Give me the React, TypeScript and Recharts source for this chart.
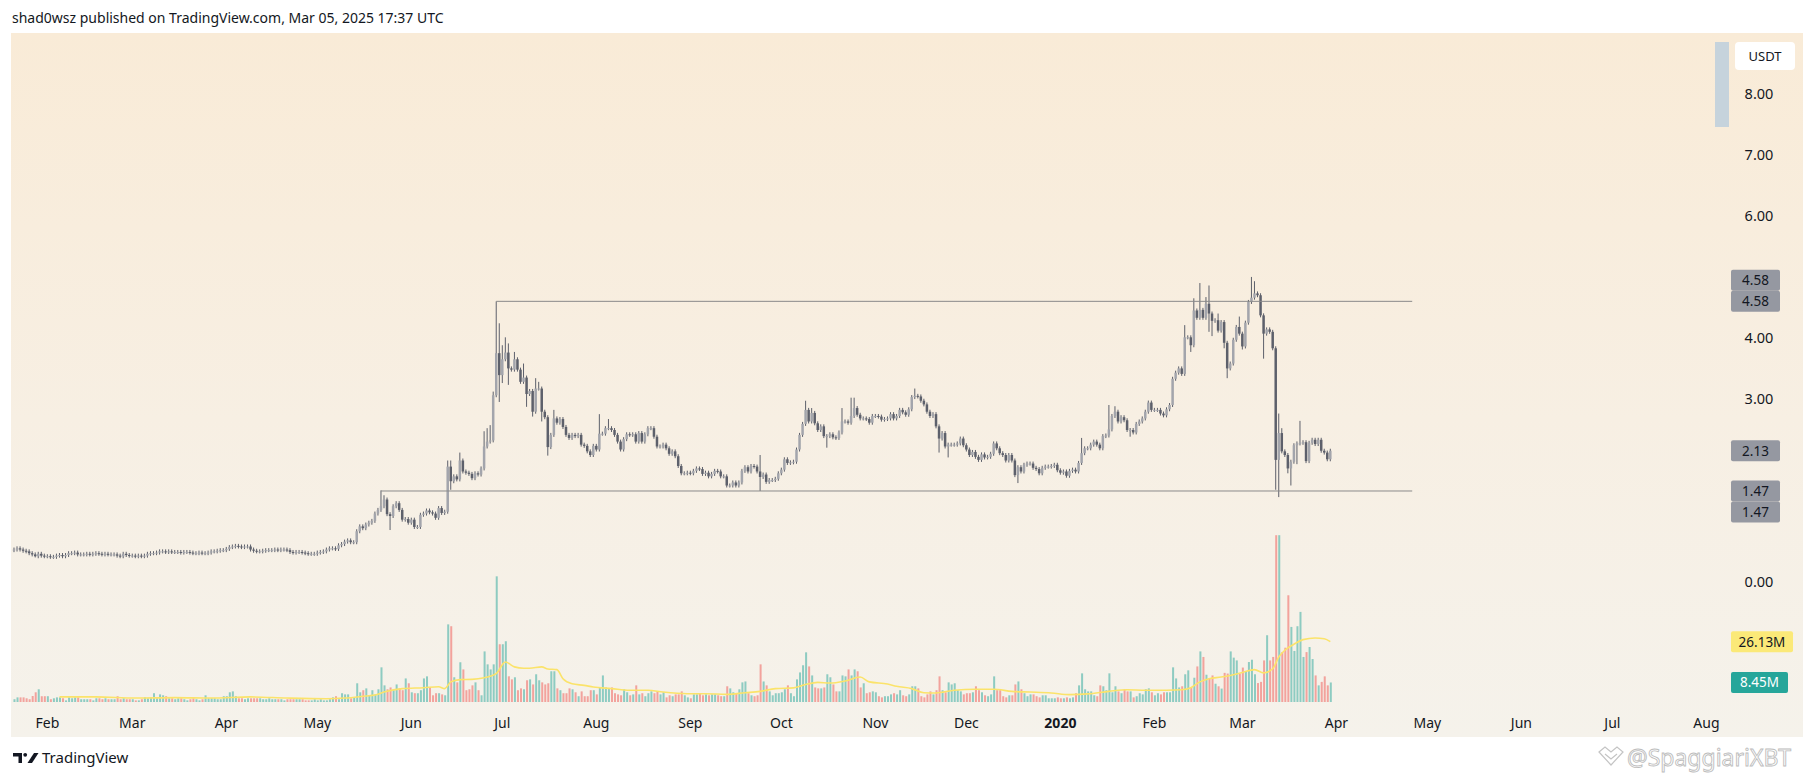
import React from 'react';
import { ComposedChart, Bar, Line, XAxis, YAxis, Cell, ReferenceLine } from 'recharts';

// daily closes (USDT), one candle per day from Jan 21 2019 to Mar 30 2020
const closeJan19 = [0.51, 0.53, 0.51, 0.49, 0.48, 0.45, 0.43, 0.40, 0.44, 0.41, 0.40];
const closeFeb19 = [0.40, 0.39, 0.39, 0.41, 0.42, 0.40, 0.42, 0.45, 0.45, 0.46, 0.43, 0.43, 0.43, 0.44, 0.43, 0.44, 0.45, 0.44, 0.43, 0.44, 0.43, 0.43, 0.43, 0.41, 0.40, 0.44, 0.42, 0.41];
const closeMar19 = [0.41, 0.40, 0.41, 0.40, 0.41, 0.44, 0.45, 0.45, 0.46, 0.48, 0.48, 0.47, 0.48, 0.47, 0.47, 0.47, 0.46, 0.47, 0.47, 0.46, 0.45, 0.45, 0.46, 0.45, 0.45, 0.46, 0.48, 0.48, 0.49, 0.50, 0.50];
const closeApr19 = [0.52, 0.55, 0.56, 0.57, 0.56, 0.55, 0.56, 0.56, 0.51, 0.49, 0.48, 0.48, 0.49, 0.50, 0.50, 0.50, 0.51, 0.50, 0.51, 0.51, 0.50, 0.47, 0.46, 0.47, 0.47, 0.46, 0.45, 0.44, 0.44, 0.44];
const closeMay19 = [0.46, 0.47, 0.48, 0.51, 0.53, 0.53, 0.52, 0.58, 0.60, 0.64, 0.66, 0.63, 0.63, 0.81, 0.89, 0.86, 0.92, 0.95, 0.98, 1.10, 1.16, 1.22, 1.33, 1.09, 1.06, 1.22, 1.27, 1.16, 1.00, 1.01, 0.95];
const closeJun19 = [1.00, 0.88, 0.88, 1.08, 1.10, 1.15, 1.12, 1.10, 1.03, 1.19, 1.11, 1.13, 1.87, 1.63, 1.71, 1.66, 1.97, 1.79, 1.77, 1.75, 1.68, 1.76, 1.74, 1.84, 2.20, 2.28, 2.30, 3.04, 3.73, 3.37];
const closeJul19 = [3.63, 3.74, 3.48, 3.46, 3.63, 3.46, 3.26, 3.33, 3.06, 3.11, 2.77, 3.15, 3.15, 2.77, 2.68, 2.19, 2.39, 2.66, 2.59, 2.65, 2.52, 2.39, 2.34, 2.39, 2.37, 2.39, 2.23, 2.21, 2.12, 2.06, 2.21];
const closeAug19 = [2.15, 2.41, 2.41, 2.50, 2.50, 2.47, 2.39, 2.28, 2.15, 2.32, 2.40, 2.39, 2.40, 2.28, 2.42, 2.28, 2.40, 2.50, 2.50, 2.36, 2.20, 2.20, 2.23, 2.17, 2.08, 2.12, 2.04, 1.88, 1.76, 1.76, 1.77];
const closeSep19 = [1.76, 1.80, 1.84, 1.83, 1.75, 1.77, 1.71, 1.75, 1.80, 1.79, 1.71, 1.71, 1.56, 1.56, 1.61, 1.56, 1.61, 1.80, 1.86, 1.79, 1.88, 1.87, 1.79, 1.70, 1.74, 1.62, 1.65, 1.65, 1.67, 1.76];
const closeOct19 = [1.82, 1.99, 1.93, 1.94, 1.95, 2.15, 2.39, 2.57, 2.80, 2.61, 2.75, 2.58, 2.47, 2.53, 2.37, 2.37, 2.40, 2.35, 2.34, 2.43, 2.61, 2.61, 2.59, 2.70, 2.83, 2.72, 2.66, 2.66, 2.65, 2.59, 2.70];
const closeNov19 = [2.70, 2.69, 2.64, 2.65, 2.66, 2.73, 2.66, 2.70, 2.80, 2.76, 2.72, 2.81, 3.01, 3.03, 3.02, 2.95, 2.89, 2.77, 2.70, 2.73, 2.53, 2.33, 2.42, 2.20, 2.23, 2.23, 2.23, 2.25, 2.33, 2.22];
const closeDec19 = [2.15, 2.06, 2.11, 2.03, 1.98, 2.07, 2.02, 2.03, 2.08, 2.25, 2.17, 2.09, 2.06, 1.97, 2.06, 1.97, 1.73, 1.86, 1.79, 1.90, 1.92, 1.92, 1.85, 1.83, 1.76, 1.85, 1.87, 1.87, 1.88, 1.90, 1.81];
const closeJan20 = [1.77, 1.79, 1.72, 1.80, 1.82, 1.79, 1.93, 2.09, 2.17, 2.17, 2.23, 2.28, 2.23, 2.17, 2.37, 2.38, 2.48, 2.70, 2.77, 2.61, 2.68, 2.63, 2.47, 2.47, 2.43, 2.57, 2.61, 2.66, 2.77, 2.92, 2.80];
const closeFeb20 = [2.80, 2.80, 2.74, 2.71, 2.81, 2.88, 3.31, 3.41, 3.48, 3.39, 3.99, 3.99, 3.86, 4.43, 4.31, 4.44, 4.31, 4.54, 4.38, 4.26, 4.27, 4.10, 4.24, 3.90, 3.48, 3.56, 3.95, 4.16, 4.05];
const closeMar20 = [3.84, 4.23, 4.57, 4.64, 4.71, 4.68, 4.35, 4.05, 4.12, 4.08, 3.81, 1.98, 2.42, 2.12, 2.06, 1.84, 1.95, 2.22, 2.25, 2.26, 2.27, 1.96, 2.26, 2.31, 2.24, 2.31, 2.13, 2.10, 1.99, 2.13];
const firstOpen = 0.5;

// daily volume, millions
const volJan19 = [1.2, 2.0, 2.0, 2.0, 1.6, 1.2, 2.6, 4.2, 5.5, 2.5, 2.5];
const volFeb19 = [2.5, 1.2, 1.6, 2.0, 2.0, 1.6, 0.7, 2.0, 1.6, 2.0, 2.0, 1.2, 1.2, 1.2, 1.2, 0.7, 1.6, 1.6, 1.2, 1.6, 1.2, 1.2, 1.2, 2.5, 1.2, 1.6, 1.2, 1.2];
const volMar19 = [1.2, 0.7, 0.7, 1.2, 2.0, 1.6, 2.0, 3.8, 1.6, 3.3, 2.9, 2.5, 1.6, 1.6, 1.2, 1.6, 1.6, 1.2, 0.7, 1.2, 1.6, 1.2, 0.7, 1.2, 2.9, 1.6, 1.6, 1.6, 1.2, 1.2, 2.5];
const volApr19 = [2.5, 4.2, 4.6, 2.5, 1.6, 1.6, 1.2, 1.6, 1.6, 1.6, 1.6, 1.6, 1.2, 1.2, 1.6, 1.2, 1.2, 1.2, 1.2, 0.7, 1.2, 1.2, 1.2, 1.2, 1.2, 1.2, 0.7, 0.7, 0.7, 1.2];
const volMay19 = [0.7, 1.2, 0.7, 0.7, 1.2, 2.0, 2.5, 1.2, 3.8, 3.3, 3.3, 1.6, 2.0, 8.1, 4.2, 5.1, 5.9, 2.9, 5.1, 3.3, 5.5, 15.0, 7.2, 5.5, 6.3, 5.1, 7.6, 5.9, 5.1, 10.2, 8.1];
const volJun19 = [4.2, 3.8, 3.8, 5.1, 10.2, 11.1, 6.3, 2.9, 3.8, 3.8, 3.3, 2.9, 33.6, 32.8, 10.7, 8.5, 17.2, 14.1, 5.1, 5.5, 7.2, 8.5, 5.1, 2.9, 21.9, 16.3, 14.1, 16.3, 54.4, 25.0];
const volJul19 = [25.0, 26.3, 11.1, 9.8, 10.7, 5.1, 5.9, 5.5, 9.4, 9.8, 7.6, 12.0, 9.4, 8.5, 7.6, 8.1, 13.3, 13.3, 5.9, 5.1, 3.8, 3.8, 5.9, 5.5, 4.2, 2.5, 4.6, 2.5, 2.5, 5.1, 5.1];
const volAug19 = [3.3, 6.3, 11.5, 6.3, 5.9, 6.3, 3.8, 3.3, 2.9, 5.5, 4.2, 2.9, 3.3, 7.2, 3.3, 3.8, 2.5, 3.8, 4.6, 3.8, 4.6, 3.3, 4.2, 2.0, 2.9, 2.5, 3.3, 3.3, 4.6, 2.9, 2.0];
const volSep19 = [1.6, 3.3, 3.3, 3.8, 2.9, 3.3, 2.9, 3.3, 3.3, 2.9, 2.5, 2.5, 6.8, 5.9, 4.2, 3.8, 5.5, 8.5, 8.9, 3.8, 2.9, 2.5, 2.9, 16.3, 8.9, 7.2, 4.6, 2.9, 3.8, 3.8];
const volOct19 = [4.2, 5.5, 7.2, 3.8, 2.5, 9.8, 12.8, 15.9, 21.5, 15.4, 11.5, 6.3, 5.9, 5.9, 6.3, 12.0, 10.7, 7.6, 4.6, 4.6, 11.5, 11.1, 14.1, 11.5, 14.1, 13.3, 6.3, 8.1, 3.8, 4.2, 4.6];
const volNov19 = [4.2, 2.5, 2.0, 2.5, 2.5, 3.3, 3.8, 3.3, 5.1, 2.9, 2.5, 3.3, 6.8, 6.8, 5.9, 2.5, 2.0, 3.3, 4.6, 3.3, 5.1, 11.1, 5.1, 4.2, 8.5, 7.6, 8.1, 5.1, 4.6, 3.3];
const volDec19 = [3.8, 3.8, 4.2, 6.8, 5.1, 4.2, 2.9, 2.5, 3.3, 11.1, 5.1, 5.1, 2.5, 2.0, 2.9, 2.9, 7.6, 8.9, 5.5, 3.8, 2.5, 3.3, 3.3, 2.5, 2.0, 2.9, 2.9, 1.6, 1.6, 1.6, 2.0];
const volJan20 = [1.6, 1.6, 2.0, 1.6, 2.0, 3.8, 7.2, 12.4, 5.5, 4.6, 4.6, 2.9, 2.5, 7.2, 6.8, 5.1, 12.4, 4.2, 6.8, 4.6, 3.8, 5.5, 4.6, 4.6, 2.0, 2.5, 3.8, 3.3, 5.5, 5.9, 4.2];
const volFeb20 = [2.9, 3.8, 3.3, 4.2, 4.2, 4.2, 15.0, 10.2, 6.3, 6.8, 12.0, 13.7, 6.5, 10.5, 15.4, 21.9, 19.5, 11.8, 10.1, 11.5, 7.9, 6.8, 5.8, 12.6, 12.3, 21.9, 19.2, 18.0, 12.3];
const volMar20 = [14.9, 13.0, 17.3, 18.3, 12.0, 8.2, 8.7, 18.0, 28.9, 18.0, 19.5, 72.2, 72.2, 21.6, 23.5, 46.2, 32.5, 22.1, 32.8, 39.0, 19.5, 21.6, 23.8, 18.6, 11.5, 7.2, 8.7, 11.1, 7.2, 8.45];

// volume moving average as drawn (day index, millions)
const maDays = [15, 27, 40, 53, 65, 78, 90, 103, 109, 116, 119, 122, 128, 135, 140, 142, 144, 147, 151, 155, 159, 162, 165, 168, 170, 174, 176, 179, 181, 184, 188, 191, 197, 203, 209, 214, 222, 228, 235, 241, 246, 251, 257, 261, 265, 269, 274, 279, 282, 288, 291, 296, 300, 304, 310, 317, 323, 329, 335, 342, 348, 354, 361, 367, 373, 380, 385, 388, 391, 394, 398, 401, 405, 409, 412, 415, 417, 419, 422, 425, 429, 432, 434];
const maValues = [2.2, 2.2, 1.7, 1.9, 1.7, 2.2, 1.7, 1.4, 1.7, 2.6, 3.0, 4.3, 5.8, 6.2, 6.6, 5.8, 8.7, 9.7, 9.8, 10.5, 12.3, 17.3, 15.2, 14.6, 14.6, 15.2, 14.3, 14.0, 10.1, 7.9, 7.2, 6.5, 5.8, 5.1, 5.1, 4.3, 3.6, 3.6, 3.3, 4.0, 4.6, 5.8, 6.1, 7.6, 8.5, 8.2, 9.1, 10.8, 8.7, 7.8, 6.8, 5.8, 4.0, 3.9, 5.1, 5.5, 5.5, 4.6, 4.3, 3.9, 3.2, 3.5, 4.6, 5.3, 5.1, 5.1, 5.3, 6.2, 8.7, 10.1, 10.8, 11.5, 12.8, 14.0, 12.6, 14.4, 19.5, 22.4, 25.0, 27.0, 27.7, 27.4, 26.13];

// candles whose wicks stand out (day index, price)
const wickHighs = [[121, 1.48], [122, 1.40], [143, 1.97], [144, 1.97], [147, 2.10], [155, 2.45], [156, 2.50], [157, 2.55], [158, 3.10], [159, 4.58], [160, 4.22], [161, 3.86], [162, 3.99], [163, 3.89], [165, 3.75], [168, 3.56], [172, 3.32], [173, 3.26], [178, 2.80], [193, 2.73], [196, 2.65], [246, 2.06], [261, 2.95], [263, 2.83], [273, 2.83], [276, 3.00], [277, 3.00], [297, 3.15], [352, 2.34], [361, 2.88], [363, 2.86], [386, 4.19], [389, 4.63], [391, 4.88], [393, 4.65], [394, 4.84], [397, 4.38], [404, 4.33], [408, 4.98], [409, 4.91], [417, 2.74], [418, 2.50], [424, 2.62]];
const wickLows = [[7, 0.38], [124, 0.83], [144, 1.49], [160, 2.93], [161, 3.24], [163, 3.21], [169, 2.85], [171, 2.69], [174, 2.61], [176, 2.05], [246, 1.47], [268, 2.18], [305, 2.10], [308, 2.02], [331, 1.60], [368, 2.36], [388, 3.75], [394, 4.08], [395, 4.01], [399, 3.81], [400, 3.32], [405, 3.79], [412, 3.64], [416, 1.49], [417, 1.37], [420, 1.76], [421, 1.56], [423, 1.91]];

const monthTickDays = [11, 39, 70, 100, 131, 161, 192, 223, 253, 284, 314, 345, 376, 405, 436, 466, 497, 527, 558];
const monthTickLabels = ['Feb', 'Mar', 'Apr', 'May', 'Jun', 'Jul', 'Aug', 'Sep', 'Oct', 'Nov', 'Dec', '2020', 'Feb', 'Mar', 'Apr', 'May', 'Jun', 'Jul', 'Aug'];
const priceTicks = [0, 3, 4, 6, 7, 8];

const rangeHigh = { from: 159, to: 461, price: 4.58 };
const rangeLow = { from: 121, to: 461, price: 1.47 };

const FONT = "'Noto Sans', sans-serif";
const TEXT = '#131722';
const UP_BODY = '#a3a5ac';
const DOWN_BODY = '#5d606b';
const WICK = '#5d606b';
const VOL_UP = 'rgba(38,166,154,0.5)';
const VOL_DOWN = 'rgba(239,83,80,0.5)';

const closes = [closeJan19, closeFeb19, closeMar19, closeApr19, closeMay19, closeJun19, closeJul19, closeAug19, closeSep19, closeOct19, closeNov19, closeDec19, closeJan20, closeFeb20, closeMar20].flat();
const volumes = [volJan19, volFeb19, volMar19, volApr19, volMay19, volJun19, volJul19, volAug19, volSep19, volOct19, volNov19, volDec19, volJan20, volFeb20, volMar20].flat();
const hiMap = new Map(wickHighs.map(([d, v]) => [d, v]));
const loMap = new Map(wickLows.map(([d, v]) => [d, v]));
const maMap = new Map(maDays.map((d, i) => [d, maValues[i]]));

const data = closes.map((close, day) => {
  const open = day === 0 ? firstOpen : closes[day - 1];
  return {
    day,
    open,
    close,
    hi: hiMap.get(day),
    lo: loMap.get(day),
    body: [0, close],
    vol: volumes[day],
    ma: maMap.get(day),
    up: close >= open,
  };
});

const lastClose = closes[closes.length - 1];
const lastVol = volumes[volumes.length - 1];
const lastMa = maValues[maValues.length - 1];

function Candle(props: any) {
  const { x, y, width, height, payload } = props;
  if (!payload || height == null || !isFinite(height)) return null;
  const c = payload.close;
  const px = (v: number) => y + height - (height * v) / c;
  const cx = x + width / 2;
  const top = px(Math.max(payload.open, c));
  const bot = px(Math.min(payload.open, c));
  const hiY = payload.hi != null ? px(payload.hi) : top - 2;
  const loY = payload.lo != null ? px(payload.lo) : bot + 2;
  return (
    <g>
      <line x1={cx} x2={cx} y1={hiY} y2={loY} stroke={WICK} strokeWidth={1} />
      <rect x={cx - 1.25} y={top} width={2.5} height={Math.max(1, bot - top)} fill={payload.up ? UP_BODY : DOWN_BODY} />
    </g>
  );
}

function TimeTick({ x, y, payload }: any) {
  const label = monthTickLabels[monthTickDays.indexOf(payload.value)];
  return (
    <text x={x} y={y + 18} textAnchor="middle" dominantBaseline="central" fontSize={14} fontFamily={FONT} fontWeight={label === '2020' ? 700 : 400} fill={TEXT}>
      {label}
    </text>
  );
}

function PriceTick({ x, y, payload }: any) {
  return (
    <text x={x + 44} y={y} textAnchor="middle" dominantBaseline="central" fontSize={14.5} fontFamily={FONT} fill={TEXT}>
      {payload.value.toFixed(2)}
    </text>
  );
}

function Tag({ viewBox, text, shift = 0, fill, color, w }: any) {
  if (!viewBox) return null;
  const x = viewBox.x + viewBox.width + 18;
  const y = viewBox.y + shift;
  return (
    <g>
      <rect x={x} y={y - 10.5} width={w} height={21} rx={2} fill={fill} />
      <text x={x + w / 2} y={y} textAnchor="middle" dominantBaseline="central" fontSize={13.5} fontFamily={FONT} fill={color}>
        {text}
      </text>
    </g>
  );
}

export default function App() {
  return (
    <div style={{ position: 'absolute', left: 0, top: 0, width: 1814, height: 781, background: '#fff', overflow: 'hidden', fontFamily: FONT }}>
      <div style={{ position: 'absolute', left: 12, top: 8, fontSize: 14, color: TEXT, whiteSpace: 'nowrap' }}>
        shad0wsz published on TradingView.com, Mar 05, 2025 17:37 UTC
      </div>
      <div style={{ position: 'absolute', left: 11, top: 33, width: 1792, height: 704, background: 'linear-gradient(#f9ebd7, #f7efe3 55%, #f5f2eb)' }} />
      <div style={{ position: 'absolute', left: 1715, top: 42, width: 14, height: 85, background: '#c6d3dc' }} />
      <div style={{ position: 'absolute', left: 1735, top: 42, width: 60, height: 28, background: '#fff', borderRadius: 4, fontSize: 13, color: TEXT, display: 'flex', alignItems: 'center', justifyContent: 'center' }}>
        USDT
      </div>

      <div style={{ position: 'absolute', left: 0, top: 0 }}>
        <ComposedChart width={1814} height={781} data={data} margin={{ top: 33, right: 11, bottom: 49, left: 12 }}>
          <XAxis xAxisId="price" type="number" dataKey="day" domain={[-0.66, 560.17]} allowDataOverflow ticks={monthTickDays} interval={0} tick={<TimeTick />} axisLine={false} tickLine={false} tickSize={0} height={30} />
          <XAxis xAxisId="vol" type="number" dataKey="day" domain={[-0.66, 560.17]} allowDataOverflow hide />
          <YAxis yAxisId="price" orientation="right" type="number" domain={[-1.99, 8.98]} allowDataOverflow ticks={priceTicks} interval={0} tick={<PriceTick />} axisLine={false} tickLine={false} tickSize={0} width={90} />
          <YAxis yAxisId="vol" type="number" domain={[0, 289.6]} allowDataOverflow hide />

          <Bar xAxisId="vol" yAxisId="vol" dataKey="vol" barSize={2} isAnimationActive={false}>
            {data.map((d) => (
              <Cell key={d.day} fill={d.up ? VOL_UP : VOL_DOWN} />
            ))}
          </Bar>
          <Line xAxisId="vol" yAxisId="vol" dataKey="ma" type="monotone" connectNulls dot={false} stroke="#fbe36a" strokeWidth={1.6} isAnimationActive={false} />
          <Bar xAxisId="price" yAxisId="price" dataKey="body" barSize={3} shape={(p: any) => <Candle {...p} />} isAnimationActive={false} />

          <ReferenceLine xAxisId="price" yAxisId="price" segment={[{ x: rangeHigh.from, y: rangeHigh.price }, { x: rangeHigh.to, y: rangeHigh.price }]} stroke="#8a8a8a" strokeWidth={1} />
          <ReferenceLine xAxisId="price" yAxisId="price" segment={[{ x: rangeLow.from, y: rangeLow.price }, { x: rangeLow.to, y: rangeLow.price }]} stroke="#8a8a8a" strokeWidth={1} />

          <ReferenceLine xAxisId="price" yAxisId="price" y={rangeHigh.price} stroke="none" label={<Tag text={rangeHigh.price.toFixed(2)} shift={-21} fill="#9598a1" color={TEXT} w={49} />} />
          <ReferenceLine xAxisId="price" yAxisId="price" y={rangeHigh.price} stroke="none" label={<Tag text={rangeHigh.price.toFixed(2)} fill="#9598a1" color={TEXT} w={49} />} />
          <ReferenceLine xAxisId="price" yAxisId="price" y={lastClose} stroke="none" label={<Tag text={lastClose.toFixed(2)} fill="#9598a1" color={TEXT} w={49} />} />
          <ReferenceLine xAxisId="price" yAxisId="price" y={rangeLow.price} stroke="none" label={<Tag text={rangeLow.price.toFixed(2)} fill="#9598a1" color={TEXT} w={49} />} />
          <ReferenceLine xAxisId="price" yAxisId="price" y={rangeLow.price} stroke="none" label={<Tag text={rangeLow.price.toFixed(2)} shift={21} fill="#9598a1" color={TEXT} w={49} />} />
          <ReferenceLine xAxisId="vol" yAxisId="vol" y={lastMa} stroke="none" label={<Tag text={lastMa.toFixed(2) + 'M'} fill="#fbe978" color={TEXT} w={62} />} />
          <ReferenceLine xAxisId="vol" yAxisId="vol" y={lastVol} stroke="none" label={<Tag text={lastVol.toFixed(2) + 'M'} fill="#26a69a" color="#fff" w={57} />} />
        </ComposedChart>
      </div>

      <svg style={{ position: 'absolute', left: 0, top: 740 }} width={300} height={40}>
        <path d="M13 13 H22 V23 H18.5 V16.5 H13 Z" fill={TEXT} />
        <circle cx={25.2} cy={14.8} r={1.9} fill={TEXT} />
        <path d="M34 13 H38.5 L32 23 H27.5 Z" fill={TEXT} />
        <text x={42} y={23} fontSize={15} fontFamily={FONT} fill={TEXT}>TradingView</text>
      </svg>

      <svg style={{ position: 'absolute', left: 1590, top: 740 }} width={224} height={40}>
        <path d="M9 12 L15 7 L21 12 L27 7 L33 12 L21 25 Z" fill="none" stroke="#c4c4c4" strokeWidth={1.2} />
        <path d="M15 14 L21 19 L27 14" fill="none" stroke="#c4c4c4" strokeWidth={1.2} />
        <text x={37} y={26} fontSize={23} fontFamily={FONT} fill="#fff" stroke="#bdbdbd" strokeWidth={0.9}>@SpaggiariXBT</text>
      </svg>
    </div>
  );
}
